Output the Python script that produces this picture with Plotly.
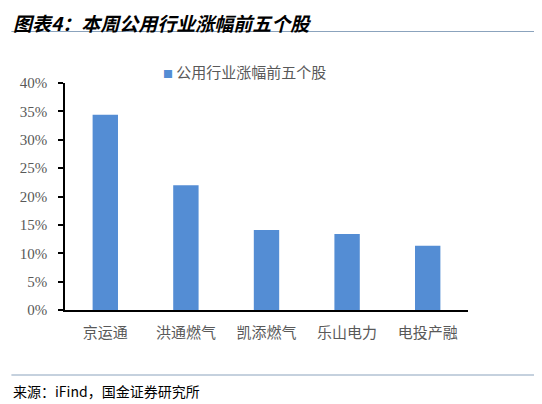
import plotly.graph_objects as go

# data
stocks = ["京运通", "洪通燃气", "凯添燃气", "乐山电力", "电投产融"]
gains = [0.344, 0.220, 0.141, 0.134, 0.113]
series_name = "公用行业涨幅前五个股"
y_ticks = [0, 0.05, 0.10, 0.15, 0.20, 0.25, 0.30, 0.35, 0.40]

# the page body has an 8px margin, so the figure is shifted by that
OFF = 8
W, H = 542 - OFF, 404 - OFF
L, R, T, B = 62 - OFF, 468 - OFF, 83 - OFF, 310 - OFF   # plot area in figure pixels


def px(x):
    # reference pixel x -> paper coordinate
    return (x - OFF - L) / (R - L)


def py(y):
    # reference pixel y -> paper coordinate
    return (B - (y - OFF)) / (B - T)


cjk = "Noto Sans CJK SC"
bar_color = "#548DD4"

fig = go.Figure()
fig.add_trace(go.Bar(
    x=stocks, y=gains, name=series_name,
    marker=dict(color=bar_color, line=dict(width=0)),
    showlegend=False,
))

fig.update_layout(
    width=W, height=H,
    margin=dict(l=L, r=W - R, t=T, b=H - B, pad=0),
    paper_bgcolor="white", plot_bgcolor="white",
    bargap=0.685,
    font=dict(family=cjk, color="#595959"),
)
fig.update_xaxes(
    showline=True, linecolor="black", linewidth=1.5,
    ticks="", showgrid=False,
    tickfont=dict(family=cjk, size=15, color="#595959"),
    ticklabelstandoff=8,
)
fig.update_yaxes(
    range=[0, 0.40], tickvals=y_ticks, tickformat=".0%",
    showline=True, linecolor="black", linewidth=1.5,
    ticks="outside", ticklen=5, tickcolor="black", tickwidth=1.5,
    showgrid=False, zeroline=False,
    tickfont=dict(family="Liberation Serif", size=15, color="#595959"),
    ticklabelstandoff=8,
)

# title and rules
fig.add_annotation(
    x=px(9), y=py(8), xref="paper", yref="paper",
    xanchor="left", yanchor="top", showarrow=False, borderpad=0,
    text="<b><i>图表4：本周公用行业涨幅前五个股</i></b>",
    font=dict(family=cjk, size=19, color="black"),
)
fig.add_shape(type="line", xref="paper", yref="paper",
              x0=px(8), x1=px(542), y0=py(31.5), y1=py(31.5),
              line=dict(color="#8BA3BD", width=1.2))
fig.add_shape(type="line", xref="paper", yref="paper",
              x0=px(8), x1=px(542), y0=py(375), y1=py(375),
              line=dict(color="#8BA3BD", width=1.2))

# legend
fig.add_annotation(
    x=px(159), y=py(71), xref="paper", yref="paper",
    xanchor="left", yanchor="middle", showarrow=False,
    text=f"<span style='color:{bar_color};font-size:10px'>■</span> {series_name}",
    font=dict(family=cjk, size=15, color="#595959"),
)

# source
fig.add_annotation(
    x=px(8), y=py(391), xref="paper", yref="paper",
    xanchor="left", yanchor="middle", showarrow=False,
    text="来源：iFind，国金证券研究所",
    font=dict(family=cjk, size=14, color="black"),
)

fig.write_html("out.html")
